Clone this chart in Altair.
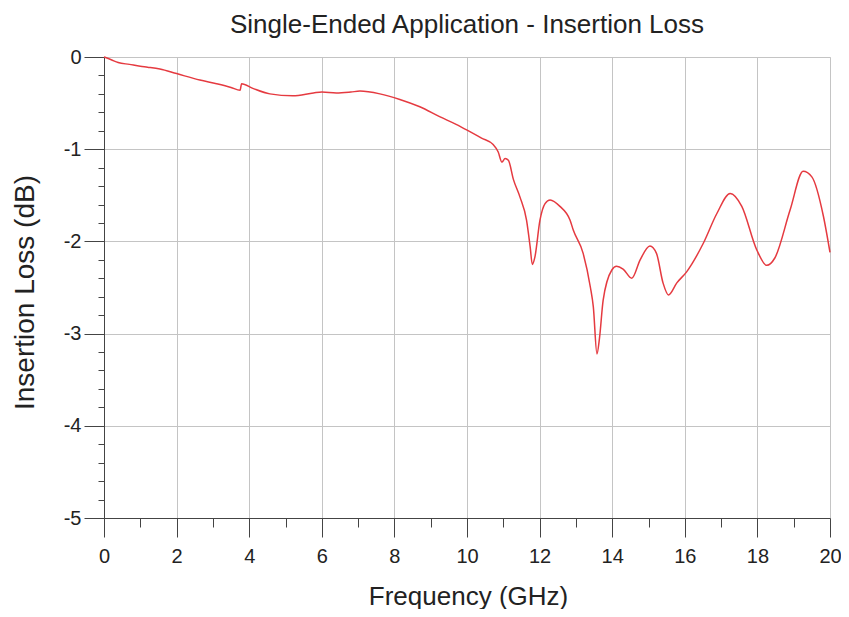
import altair as alt
import pandas as pd

freq = [0.00, 0.20, 0.39, 0.70, 1.00, 1.20, 1.54, 2.00, 2.64, 3.10, 3.50, 3.75,
        3.79, 4.10, 4.57, 5.20, 5.77, 6.00, 6.40, 6.80, 7.05, 7.60, 8.15, 8.70, 9.26,
        9.70, 10.08, 10.40, 10.72, 10.86, 10.96, 11.05, 11.14, 11.28, 11.46, 11.64,
        11.74, 11.80, 11.87, 12.01, 12.15, 12.29, 12.56, 12.84, 12.93, 13.20, 13.40,
        13.48, 13.58, 13.65, 13.75, 13.99, 14.12, 14.30, 14.54, 14.77, 15.04, 15.22,
        15.40, 15.55, 15.78, 16.05, 16.51, 16.88, 17.25, 17.57, 17.98, 18.26, 18.48,
        18.90, 19.26, 19.50, 19.82, 20.00]
loss = [0.00, -0.03, -0.06, -0.08, -0.10, -0.11, -0.13, -0.18, -0.25, -0.29, -0.33, -0.36,
        -0.29, -0.34, -0.40, -0.42, -0.39, -0.38, -0.39, -0.38, -0.37, -0.40, -0.46, -0.54, -0.65,
        -0.73, -0.81, -0.88, -0.95, -1.03, -1.14, -1.10, -1.12, -1.33, -1.52, -1.77,
        -2.06, -2.25, -2.17, -1.77, -1.59, -1.55, -1.62, -1.77, -1.88, -2.13, -2.50,
        -2.71, -3.22, -3.05, -2.64, -2.31, -2.27, -2.30, -2.40, -2.20, -2.05, -2.13,
        -2.45, -2.58, -2.45, -2.33, -2.02, -1.70, -1.48, -1.62, -2.09, -2.26, -2.18,
        -1.66, -1.24, -1.30, -1.73, -2.12]

x_ticks = list(range(0, 21))
y_ticks = [round(-0.2 * k, 1) for k in range(0, 26)]

df = pd.DataFrame({"f": freq, "il": loss})

FONT = "Liberation Sans"
major_x = "datum.value % 2 === 0"
major_y = "abs(datum.value - round(datum.value)) < 0.001"

x_axis = alt.Axis(
    values=x_ticks,
    labelExpr=f"{major_x} ? toString(datum.value) : ''",
    title="Frequency (GHz)",
    titleFont=FONT, titleFontSize=26, titleFontWeight="normal", titleColor="#222",
    titleX=364, titleY=86, titleBaseline="alphabetic",
    labelFont=FONT, labelFontSize=20, labelColor="#222",
    labelPadding=9, labelBaseline="top",
    tickSize={"condition": {"test": major_x, "value": 19}, "value": 9},
    tickColor="#444", domainColor="#444",
    gridColor="#c4c4c4",
    gridOpacity={"condition": {"test": major_x, "value": 1}, "value": 0},
    labelFlush=False, labelOverlap=False,
)
y_axis = alt.Axis(
    values=y_ticks,
    labelExpr=f"{major_y} ? toString(round(datum.value)) : ''",
    title="Insertion Loss (dB)",
    titleFont=FONT, titleFontSize=28, titleFontWeight="normal", titleColor="#222",
    titleX=-71, titleY=235, titleBaseline="alphabetic", titleAngle=-90,
    labelFont=FONT, labelFontSize=20, labelColor="#222",
    labelPadding=3,
    tickSize={"condition": {"test": major_y, "value": 20}, "value": 6},
    tickColor="#444", domainColor="#444",
    gridColor="#c4c4c4",
    gridOpacity={"condition": {"test": major_y, "value": 1}, "value": 0},
    labelFlush=False, labelOverlap=False,
)

chart = (
    alt.Chart(df)
    .mark_line(color="#e53a40", strokeWidth=1.5, interpolate="monotone")
    .encode(
        x=alt.X("f:Q", scale=alt.Scale(domain=[0, 20], nice=False), axis=x_axis),
        y=alt.Y("il:Q", scale=alt.Scale(domain=[-5, 0], nice=False), axis=y_axis),
    )
    .properties(
        width=726, height=461,
        title=alt.TitleParams("Single-Ended Application - Insertion Loss",
                              font=FONT, fontSize=26, fontWeight="normal", color="#222",
                              anchor="middle", frame="group", baseline="alphabetic",
                              offset=0, dy=12),
        autosize=alt.AutoSizeParams(type="none"),
        padding={"left": 96, "top": 49, "right": 11, "bottom": 91},
    )
    .configure_view(stroke="#888", strokeWidth=1)
    .configure(background="white")
)

chart.save("out.html", embed_options={"renderer": "svg", "actions": False})
